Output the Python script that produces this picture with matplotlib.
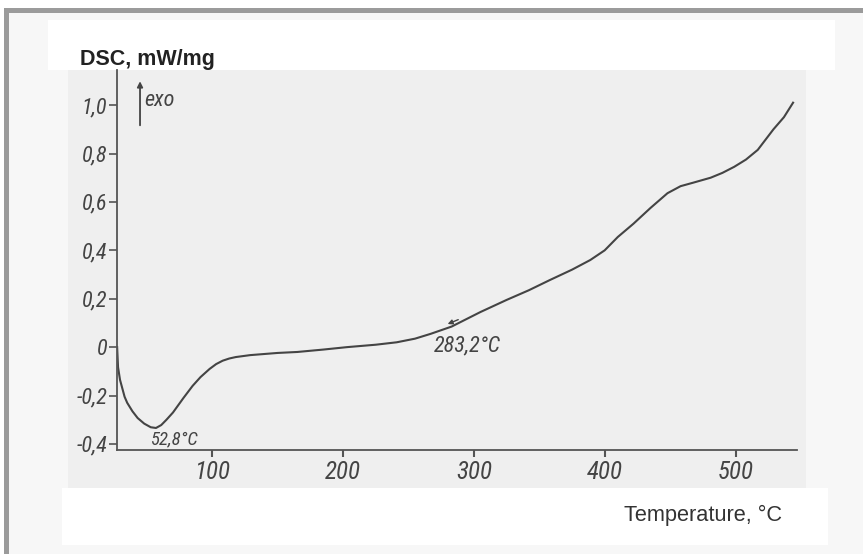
import numpy as np
import matplotlib.pyplot as plt
from matplotlib.patches import Rectangle

# DSC curve (temperature in C, heat flow in mW/mg)
temp = [27.3, 28, 29.5, 31, 33, 35, 39, 43, 48, 53, 57, 61, 65, 70, 78, 85,
        91, 98, 103, 108, 113, 118, 129, 150, 165, 185, 203, 225, 241, 255,
        267, 283, 305, 325, 342, 358, 375, 389, 400, 410, 422, 435, 448, 458,
        468, 481, 490, 499, 508, 517, 529, 537, 544]
dsc = [0.0, -0.083, -0.135, -0.165, -0.205, -0.23, -0.265, -0.293, -0.316,
       -0.331, -0.334, -0.322, -0.30, -0.27, -0.21, -0.16, -0.124, -0.09,
       -0.07, -0.056, -0.047, -0.041, -0.033, -0.024, -0.02, -0.01, 0.0,
       0.01, 0.02, 0.035, 0.055, 0.085, 0.145, 0.195, 0.235, 0.277, 0.32,
       0.36, 0.40, 0.455, 0.51, 0.575, 0.636, 0.665, 0.68, 0.70, 0.72, 0.745,
       0.775, 0.815, 0.90, 0.95, 1.01]

xticks = [100, 200, 300, 400, 500]
yticks = [-0.4, -0.2, 0, 0.2, 0.4, 0.6, 0.8, 1.0]
ylabels = ['-0,4', '-0,2', '0', '0,2', '0,4', '0,6', '0,8', '1,0']

W, H = 863, 554
fig = plt.figure(figsize=(W / 100, H / 100), dpi=100)
fig.patch.set_facecolor('white')


def box(x0, y0, x1, y1, color):
    # pixel box, y measured from the top
    r = Rectangle((x0 / W, 1 - y1 / H), (x1 - x0) / W, (y1 - y0) / H,
                  transform=fig.transFigure, facecolor=color, edgecolor='none',
                  zorder=-10)
    fig.patches.append(r)


box(4, 8, W, H, '#9b9b9b')        # frame
box(9, 13, W, H, '#f7f7f7')       # inner panel
box(48, 20, 835, 70, 'white')     # title strip
box(68, 70, 806, 488, '#efefef')  # scanned plot
box(62, 488, 828, 545, 'white')   # x label strip

ax = fig.add_axes([117 / W, 1 - 450 / H, (797 - 117) / W, (450 - 70) / H])
ax.patch.set_visible(False)

ink = '#444444'
ax.plot(temp, dsc, color=ink, lw=1.5)

ax.set_xlim(27.2, 547)
ax.set_ylim(-0.425, 1.145)

ax.spines['top'].set_visible(False)
ax.spines['right'].set_visible(False)
for s in ['left', 'bottom']:
    ax.spines[s].set_color('#555555')
    ax.spines[s].set_linewidth(1.3)

hand = ['Liberation Sans Narrow', 'Roboto Condensed', 'DejaVu Sans Condensed',
        'Liberation Sans']
ax.set_xticks(xticks)
ax.set_xticklabels([str(t) for t in xticks], family=hand, style='italic',
                   stretch='condensed', fontsize=18, color=ink)
ax.set_yticks(yticks)
ax.set_yticklabels(ylabels, family=hand, style='italic', stretch='condensed',
                   fontsize=16, color=ink)
ax.tick_params(axis='x', length=5, width=1.5, color='#555555', pad=2)
ax.tick_params(axis='y', length=6, width=1.2, color='#555555', pad=1)

# exo arrow
ax.annotate('', xy=(44.8, 1.11), xytext=(44.8, 0.905),
            arrowprops=dict(arrowstyle='-|>', color=ink, lw=1.3,
                            mutation_scale=8))
ax.text(48.3, 1.02, 'exo', family=hand, style='italic', stretch='condensed',
        fontsize=16, color=ink, va='center', ha='left')

# peak labels
ax.text(52.4, -0.382, '52,8°C', family=hand, style='italic',
        stretch='condensed', fontsize=13.5, color=ink, va='center', ha='left')
ax.annotate('', xy=(278, 0.091), xytext=(290, 0.118),
            arrowprops=dict(arrowstyle='-|>', color=ink, lw=1.0,
                            mutation_scale=7))
ax.text(269, 0.004, '283,2°C', family=hand, style='italic',
        stretch='condensed', fontsize=16, color=ink, va='center', ha='left')

fig.text(80 / W, 1 - 59 / H, 'DSC, mW/mg', family='Liberation Sans',
         fontweight='bold', fontsize=15.5, color='#222222', va='center',
         ha='left')
fig.text(782 / W, 1 - 515 / H, 'Temperature, °C', family='Liberation Sans',
         fontsize=15.7, color='#333333', va='center', ha='right')

fig.savefig('out.png', dpi=100)
